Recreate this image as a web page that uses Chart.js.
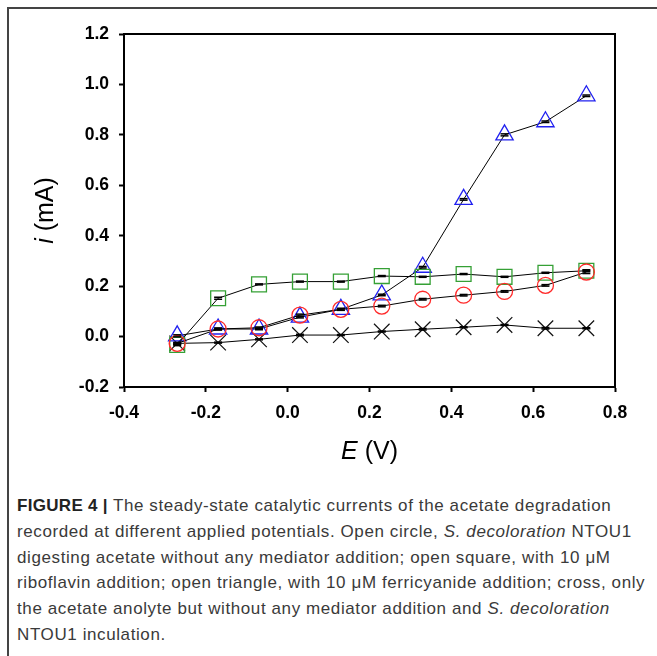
<!DOCTYPE html>
<html>
<head>
<meta charset="utf-8">
<script src="https://cdn.jsdelivr.net/npm/chart.js@4.4.0/dist/chart.umd.min.js"></script>
<style>
html, body { margin: 0; padding: 0; background: #fff; }
body { width: 657px; height: 656px; position: relative; overflow: hidden; font-family: "Liberation Sans", Arial, sans-serif; }
#frame { position: absolute; left: 7px; top: 7px; width: 660px; height: 660px; border-left: 2px solid #444; border-top: 2px solid #444; }
#chartBox { position: absolute; left: 0; top: 0; width: 657px; height: 470px; }
#caption { position: absolute; left: 17px; top: 493px; font-size: 17px; letter-spacing: 0.6px; line-height: 25.8px; color: #3a3a3a; white-space: nowrap; }
#caption b { color: #222; letter-spacing: 0.3px; }
</style>
</head>
<body>
<div id="frame"></div>
<div id="chartBox"><canvas id="chart"></canvas></div>
<div id="caption">
<b>FIGURE 4 |</b> The steady-state catalytic currents of the acetate degradation<br>
recorded at different applied potentials. Open circle, <i>S. decoloration</i> NTOU1<br>
digesting acetate without any mediator addition; open square, with 10 μM<br>
riboflavin addition; open triangle, with 10 μM ferricyanide addition; cross, only<br>
the acetate anolyte but without any mediator addition and <i>S. decoloration</i><br>
NTOU1 inculation.
</div>
<script>
// applied potential E (V)
const potentials = [-0.27, -0.17, -0.07, 0.03, 0.13, 0.23, 0.33, 0.43, 0.53, 0.63, 0.73];

// current i (mA)
const circleVals   = [-0.027, 0.030, 0.035, 0.085, 0.108, 0.121, 0.148, 0.164, 0.179, 0.203, 0.256];
const squareVals   = [-0.033, 0.152, 0.207, 0.218, 0.218, 0.240, 0.237, 0.248, 0.237, 0.253, 0.261];
const triangleVals = [0.003, 0.030, 0.030, 0.077, 0.108, 0.165, 0.275, 0.544, 0.800, 0.852, 0.955];
const crossVals    = [-0.027, -0.024, -0.011, 0.006, 0.006, 0.020, 0.029, 0.037, 0.046, 0.033, 0.033];

// error bars (mA)
const circleErr   = [0.004, 0.004, 0.003, 0.004, 0.004, 0.003, 0.003, 0.003, 0.003, 0.003, 0.006];
const squareErr   = [0.003, 0.004, 0.002, 0.002, 0.002, 0.002, 0.002, 0.002, 0.002, 0.002, 0.004];
const triangleErr = [0.004, 0.003, 0.003, 0.003, 0.003, 0.003, 0.003, 0.003, 0.004, 0.003, 0.003];
const crossErr    = [0.002, 0.002, 0.002, 0.003, 0.002, 0.002, 0.003, 0.002, 0.002, 0.003, 0.002];

const xTicks = [-0.4, -0.2, 0.0, 0.2, 0.4, 0.6, 0.8];
const yTicks = [-0.2, 0.0, 0.2, 0.4, 0.6, 0.8, 1.0, 1.2];

const toPoints = (vals) => potentials.map((x, i) => ({ x: x, y: vals[i] }));
const errors = [circleErr, squareErr, triangleErr, crossErr];

const labelFont = { family: '"Liberation Sans", Arial, sans-serif', size: 17.5, weight: 'bold' };
const titleSize = 25;

// draw "italic + normal" title pieces centred on 0,0
function mixedTitle(ctx, italicPart, normalPart) {
    ctx.font = 'italic ' + titleSize + 'px "Liberation Sans", Arial, sans-serif';
    const w1 = ctx.measureText(italicPart).width;
    ctx.font = titleSize + 'px "Liberation Sans", Arial, sans-serif';
    const w2 = ctx.measureText(normalPart).width;
    const sx = -(w1 + w2) / 2;
    ctx.font = 'italic ' + titleSize + 'px "Liberation Sans", Arial, sans-serif';
    ctx.fillText(italicPart, sx, 0);
    ctx.font = titleSize + 'px "Liberation Sans", Arial, sans-serif';
    ctx.fillText(normalPart, sx + w1, 0);
}

// error caps, frame box and axis titles
const extras = {
    id: 'extras',
    afterDatasetsDraw(chart) {
        const ctx = chart.ctx;
        const a = chart.chartArea;
        const xs = chart.scales.x, ys = chart.scales.y;
        ctx.save();
        ctx.strokeStyle = '#000';
        ctx.lineWidth = 1.5;
        chart.data.datasets.forEach((ds, i) => {
            ds.data.forEach((p, j) => {
                const px = xs.getPixelForValue(p.x);
                [p.y - errors[i][j], p.y + errors[i][j]].forEach(v => {
                    const py = ys.getPixelForValue(v);
                    ctx.beginPath();
                    ctx.moveTo(px - 4, py);
                    ctx.lineTo(px + 4, py);
                    ctx.stroke();
                });
            });
        });
        ctx.lineWidth = 2;
        ctx.strokeRect(a.left, a.top, a.right - a.left, a.bottom - a.top);
        ctx.restore();
    },
    afterDraw(chart) {
        const ctx = chart.ctx;
        const a = chart.chartArea;
        ctx.save();
        ctx.fillStyle = '#000';
        ctx.textBaseline = 'middle';
        ctx.textAlign = 'left';

        ctx.save();
        ctx.translate((a.left + a.right) / 2, 452);
        mixedTitle(ctx, 'E', ' (V)');
        ctx.restore();

        ctx.translate(46, (a.top + a.bottom) / 2);
        ctx.rotate(-Math.PI / 2);
        mixedTitle(ctx, 'i', ' (mA)');
        ctx.restore();
    }
};

const data = {
    datasets: [{
        label: 'Open circle',
        data: toPoints(circleVals),
        borderColor: '#000',
        borderWidth: 1,
        pointStyle: 'circle',
        pointRadius: 8,
        pointBorderColor: '#ff2a2a',
        pointBackgroundColor: 'rgba(0,0,0,0)',
        pointBorderWidth: 1.3,
        fill: false
    }, {
        label: 'Open square',
        data: toPoints(squareVals),
        borderColor: '#000',
        borderWidth: 1,
        pointStyle: 'rect',
        pointRadius: 10.5,
        pointBorderColor: '#35a035',
        pointBackgroundColor: 'rgba(0,0,0,0)',
        pointBorderWidth: 1.3,
        fill: false
    }, {
        label: 'Open triangle',
        data: toPoints(triangleVals),
        borderColor: '#000',
        borderWidth: 1,
        pointStyle: 'triangle',
        pointRadius: 10,
        pointBorderColor: '#2020f0',
        pointBackgroundColor: 'rgba(0,0,0,0)',
        pointBorderWidth: 1.3,
        fill: false
    }, {
        label: 'Cross',
        data: toPoints(crossVals),
        borderColor: '#000',
        borderWidth: 1,
        pointStyle: 'crossRot',
        pointRadius: 11,
        pointBorderColor: '#111',
        pointBorderWidth: 1.2,
        fill: false
    }]
};

const config = {
    type: 'line',
    data: data,
    plugins: [extras],
    options: {
        responsive: true,
        maintainAspectRatio: false,
        animation: false,
        layout: { padding: { left: 0, right: 42, top: 34, bottom: 0 } },
        plugins: {
            legend: { display: false },
            tooltip: { enabled: false }
        },
        scales: {
            x: {
                type: 'linear',
                min: -0.4,
                max: 0.8,
                afterBuildTicks: (s) => { s.ticks = xTicks.map(v => ({ value: v })); },
                afterFit: (s) => { s.height = 83; },
                ticks: {
                    color: '#000',
                    font: labelFont,
                    padding: 11,
                    maxRotation: 0,
                    callback: (v) => (Math.round(v * 10) / 10).toFixed(1)
                },
                grid: { drawOnChartArea: false, drawTicks: true, tickLength: 5, tickWidth: 2, tickColor: '#000' },
                border: { display: true, color: '#000', width: 2 },
                title: { display: false }
            },
            y: {
                type: 'linear',
                min: -0.2,
                max: 1.2,
                afterBuildTicks: (s) => { s.ticks = yTicks.map(v => ({ value: v })); },
                afterFit: (s) => { s.width = 124; },
                ticks: {
                    color: '#000',
                    font: labelFont,
                    padding: 10,
                    callback: (v) => (Math.round(v * 10) / 10).toFixed(1)
                },
                grid: { drawOnChartArea: false, drawTicks: true, tickLength: 5, tickWidth: 2, tickColor: '#000' },
                border: { display: true, color: '#000', width: 2 },
                title: { display: false }
            }
        }
    }
};

window.myChart = new Chart(document.getElementById('chart'), config);
</script>
</body>
</html>
